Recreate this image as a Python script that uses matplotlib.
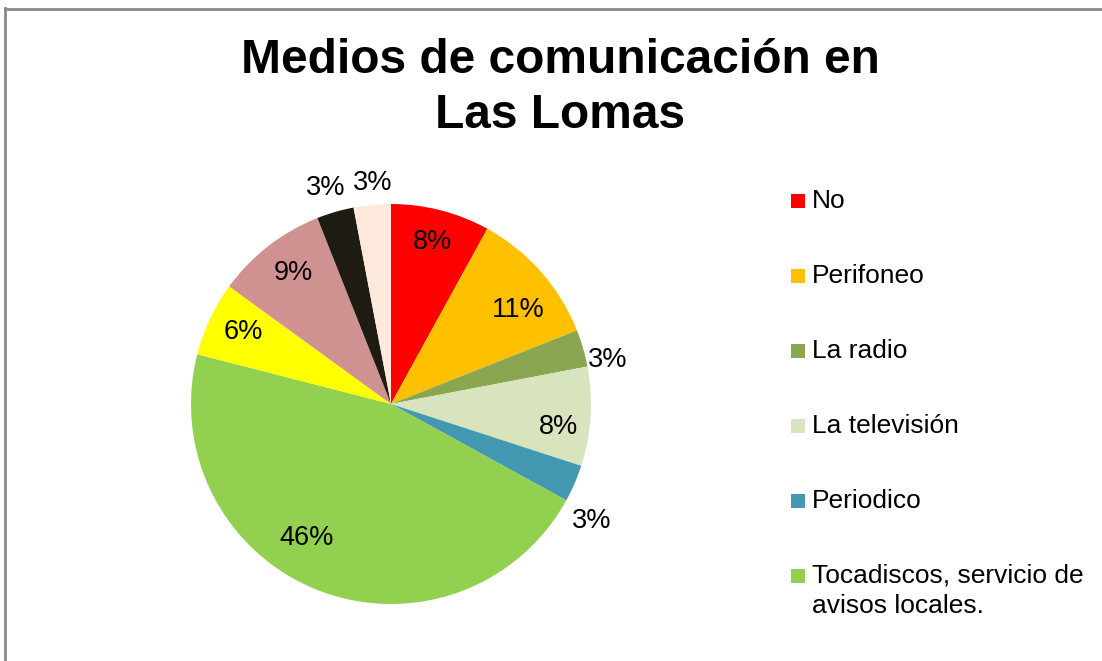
import numpy as np
import matplotlib
matplotlib.use("Agg")
import matplotlib.pyplot as plt
from matplotlib.patches import Rectangle
from matplotlib.lines import Line2D

plt.rcParams['font.family'] = ['Liberation Sans', 'DejaVu Sans']

title = "Medios de comunicación en\nLas Lomas"
categories = ["No", "Perifoneo", "La radio", "La televisión", "Periodico",
              "Tocadiscos, servicio de\navisos locales."]
percentages = [8, 11, 3, 8, 3, 46, 6, 9, 3, 3]
colors = ["#FF0000", "#FFC000", "#8BA650", "#D8E4BD", "#4299B1",
          "#92D050", "#FFFF00", "#D09290", "#1E1B12", "#FDE9DB"]

# data-label anchor points in pie-radius units (best-fit placement)
label_xy = [(0.21, 0.81), (0.635, 0.47), (1.085, 0.22), (0.835, -0.115),
            (1.005, -0.585), (-0.42, -0.67), (-0.74, 0.36), (-0.49, 0.655),
            (-0.325, 1.08), (-0.09, 1.105)]

W, H = 1102, 661
fig = plt.figure(figsize=(W / 100, H / 100), dpi=100)

# chart frame (top and left edges visible)
fig.add_artist(Line2D([4.5 / W, 4.5 / W], [0, 1 - 8 / H], transform=fig.transFigure,
                      color="#8A8A8A", lw=2))
fig.add_artist(Line2D([4.5 / W, 1], [1 - 8.5 / H, 1 - 8.5 / H], transform=fig.transFigure,
                      color="#8A8A8A", lw=2))

fig.text(560 / W, 1 - 88 / H, title, ha="center", va="center", fontsize=34.5,
         fontweight="bold", linespacing=1.28)

# pie: centre (391, 404), radius 200 px
cx, cy, r = 391, 404, 200
ax = fig.add_axes([(cx - r) / W, 1 - (cy + r) / H, 2 * r / W, 2 * r / H])
wedges, _ = ax.pie(percentages, colors=colors, startangle=90, counterclock=False,
                   radius=1.0, wedgeprops=dict(linewidth=0))
ax.set_xlim(-1, 1)
ax.set_ylim(-1, 1)
ax.set_aspect("equal")
ax.axis("off")

for (lx, ly), p in zip(label_xy, percentages):
    ax.text(lx, ly, f"{p}%", ha="center", va="center", fontsize=19.5,
            color="black", clip_on=False)

# legend
ly0, step = 201, 75
for i, (name, w) in enumerate(zip(categories, wedges)):
    y = ly0 + i * step
    fig.add_artist(Rectangle((791 / W, 1 - (y + 7) / H), 14 / W, 14 / H,
                             transform=fig.transFigure,
                             facecolor=w.get_facecolor(), edgecolor="none"))
    fig.text(812 / W, 1 - (y - 12) / H, name, ha="left", va="top",
             fontsize=19, linespacing=1.32)

fig.savefig("out.png", dpi=100)
